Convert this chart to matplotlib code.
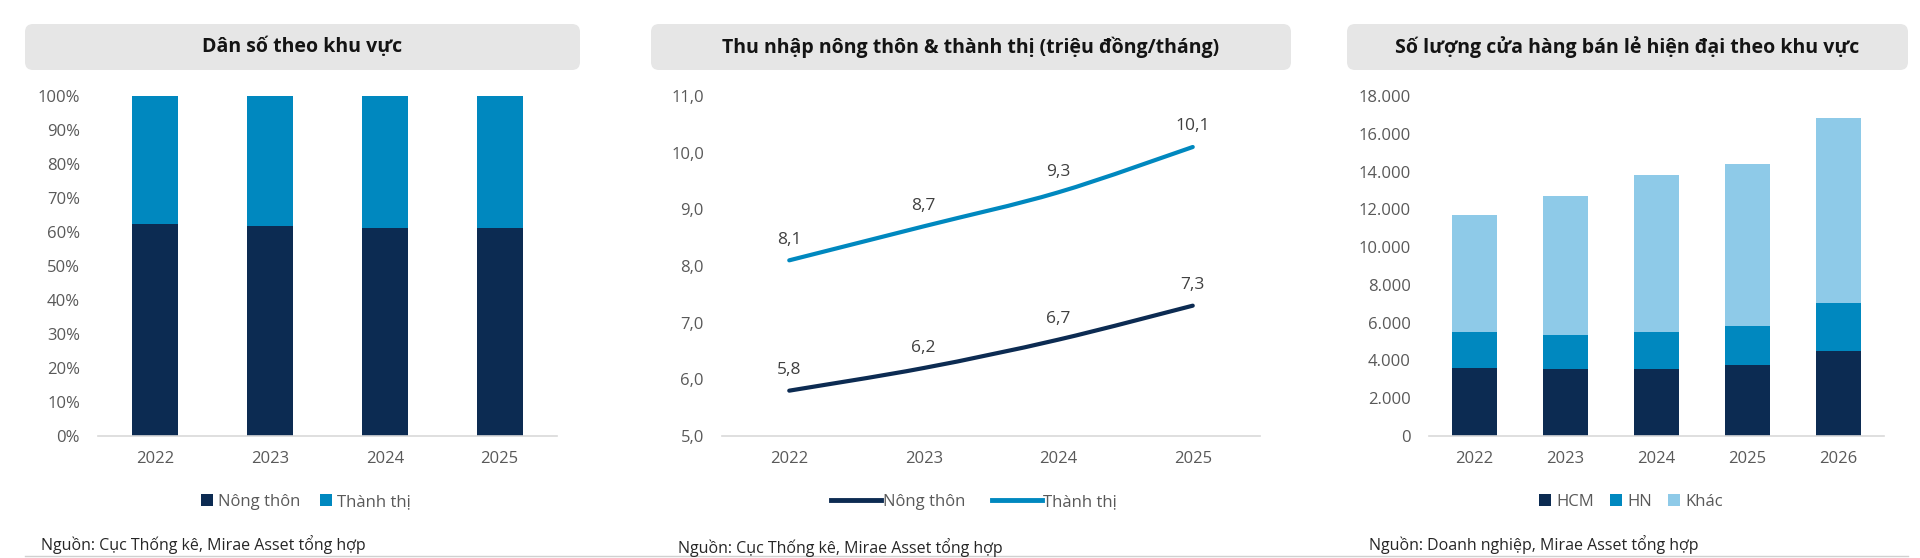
import numpy as np
import matplotlib
matplotlib.use("Agg")
import matplotlib.pyplot as plt
from matplotlib.patches import FancyBboxPatch, PathPatch
from matplotlib.path import Path
from matplotlib.lines import Line2D
from matplotlib.ticker import FuncFormatter

plt.rcParams["font.family"] = ["Open Sans", "DejaVu Sans"]

NAVY = "#0C2B52"
BLUE = "#0088BF"
LIGHT = "#8ECAE8"
GRID = "#D9D9D9"
TXT = "#595959"

# data
years_pop = ["2022", "2023", "2024", "2025"]
rural_share = [62.5, 61.8, 61.3, 61.3]
urban_share = [37.5, 38.2, 38.7, 38.7]

years_inc = ["2022", "2023", "2024", "2025"]
rural_income = [5.8, 6.2, 6.7, 7.3]
urban_income = [8.1, 8.7, 9.3, 10.1]

years_store = ["2022", "2023", "2024", "2025", "2026"]
hcm = [3600, 3550, 3550, 3750, 4500]
hn = [1900, 1800, 1950, 2100, 2550]
khac = [6200, 7330, 8310, 8530, 9800]

W, H = 1920, 558
fig = plt.figure(figsize=(W / 100, H / 100), dpi=100)

bg = fig.add_axes([0, 0, 1, 1], zorder=-1)
bg.set_xlim(0, W)
bg.set_ylim(H, 0)
bg.axis("off")


def add_ax(x0, x1, y0, y1):
    return fig.add_axes([x0 / W, (H - y1) / H, (x1 - x0) / W, (y1 - y0) / H])


def style(ax):
    for s in ["top", "right", "left"]:
        ax.spines[s].set_visible(False)
    ax.spines["bottom"].set_color(GRID)
    ax.spines["bottom"].set_linewidth(1.2)
    ax.tick_params(axis="both", length=0, labelsize=12, labelcolor=TXT)
    ax.tick_params(axis="y", pad=13)
    ax.tick_params(axis="x", pad=11)


def title_box(x0, x1, text):
    bg.add_patch(FancyBboxPatch((x0 + 8, 24 + 8), x1 - x0 - 16, 46 - 16,
                                boxstyle="round,pad=8", fc="#E6E6E6", ec="none"))
    bg.text((x0 + x1) / 2, 47, text, ha="center", va="center",
            fontsize=14, fontweight="bold", color="#141414")


def smooth_path(xs, ys):
    # Catmull-Rom style bezier, like Excel smoothed lines
    pts = list(zip(xs, ys))
    verts = [pts[0]]
    codes = [Path.MOVETO]
    n = len(pts)
    for i in range(n - 1):
        p0 = pts[i - 1] if i > 0 else pts[i]
        p1 = pts[i]
        p2 = pts[i + 1]
        p3 = pts[i + 2] if i + 2 < n else pts[i + 1]
        c1 = (p1[0] + (p2[0] - p0[0]) / 6, p1[1] + (p2[1] - p0[1]) / 6)
        c2 = (p2[0] - (p3[0] - p1[0]) / 6, p2[1] - (p3[1] - p1[1]) / 6)
        verts += [c1, c2, p2]
        codes += [Path.CURVE4] * 3
    return Path(verts, codes)


# panel 1
title_box(25, 580, "Dân số theo khu vực")
ax1 = add_ax(98, 557, 96, 436)
x = np.arange(len(years_pop))
ax1.bar(x, rural_share, width=0.4, color=NAVY, label="Nông thôn")
ax1.bar(x, urban_share, width=0.4, bottom=rural_share, color=BLUE, label="Thành thị")
ax1.set_xlim(-0.5, 3.5)
ax1.set_ylim(0, 100)
ax1.set_yticks(range(0, 101, 10))
ax1.yaxis.set_major_formatter(FuncFormatter(lambda v, p: f"{v:.0f}%"))
ax1.set_xticks(x)
ax1.set_xticklabels(years_pop)
style(ax1)
ax1.legend(loc="center", bbox_to_anchor=(306, 502), bbox_transform=bg.transData,
           ncol=2, frameon=False, fontsize=12, handlelength=0.7, handleheight=0.7,
           handletextpad=0.3, columnspacing=1.2, labelcolor=TXT)

# panel 2
title_box(651, 1291, "Thu nhập nông thôn & thành thị (triệu đồng/tháng)")
ax2 = add_ax(722, 1260, 96, 436)
x = np.arange(len(years_inc))
for vals, col in [(rural_income, NAVY), (urban_income, BLUE)]:
    ax2.add_patch(PathPatch(smooth_path(x, vals), fc="none", ec=col, lw=3,
                            capstyle="round"))
    for xi, v in zip(x, vals):
        ax2.annotate(f"{v:.1f}".replace(".", ","), (xi, v), xytext=(0, 9),
                     textcoords="offset points", ha="center", va="bottom",
                     fontsize=12.5, color="#404040")
ax2.set_xlim(-0.5, 3.5)
ax2.set_ylim(5, 11)
ax2.set_yticks(range(5, 12))
ax2.yaxis.set_major_formatter(FuncFormatter(lambda v, p: f"{v:.1f}".replace(".", ",")))
ax2.set_xticks(x)
ax2.set_xticklabels(years_inc)
style(ax2)
handles = [Line2D([], [], color=NAVY, lw=3.5), Line2D([], [], color=BLUE, lw=3.5)]
ax2.legend(handles, ["Nông thôn", "Thành thị"], loc="center", bbox_to_anchor=(974, 502),
           bbox_transform=bg.transData, ncol=2, frameon=False, fontsize=12,
           handlelength=3.0, handletextpad=0.1, columnspacing=1.6, labelcolor=TXT)

# panel 3
title_box(1347, 1908, "Số lượng cửa hàng bán lẻ hiện đại theo khu vực")
ax3 = add_ax(1429, 1884, 96, 436)
x = np.arange(len(years_store))
b2 = np.array(hcm) + np.array(hn)
ax3.bar(x, hcm, width=0.5, color=NAVY, label="HCM")
ax3.bar(x, hn, width=0.5, bottom=hcm, color=BLUE, label="HN")
ax3.bar(x, khac, width=0.5, bottom=b2, color=LIGHT, label="Khác")
ax3.set_xlim(-0.5, 4.5)
ax3.set_ylim(0, 18000)
ax3.set_yticks(range(0, 18001, 2000))
ax3.yaxis.set_major_formatter(FuncFormatter(lambda v, p: f"{v:,.0f}".replace(",", ".")))
ax3.set_xticks(x)
ax3.set_xticklabels(years_store)
style(ax3)
ax3.legend(loc="center", bbox_to_anchor=(1631, 502), bbox_transform=bg.transData,
           ncol=3, frameon=False, fontsize=12, handlelength=0.7, handleheight=0.7,
           handletextpad=0.3, columnspacing=1.0, labelcolor=TXT)

# sources
bg.text(41, 545, "Nguồn: Cục Thống kê, Mirae Asset tổng hợp", fontsize=11.5,
        color="#262626", va="center")
bg.text(678, 548, "Nguồn: Cục Thống kê, Mirae Asset tổng hợp", fontsize=11.5,
        color="#262626", va="center")
bg.text(1369, 545, "Nguồn: Doanh nghiệp, Mirae Asset tổng hợp", fontsize=11.5,
        color="#262626", va="center")
bg.plot([25, 1908], [556, 556], color="#D0D0D0", lw=1)

fig.savefig("out.png", dpi=100)
